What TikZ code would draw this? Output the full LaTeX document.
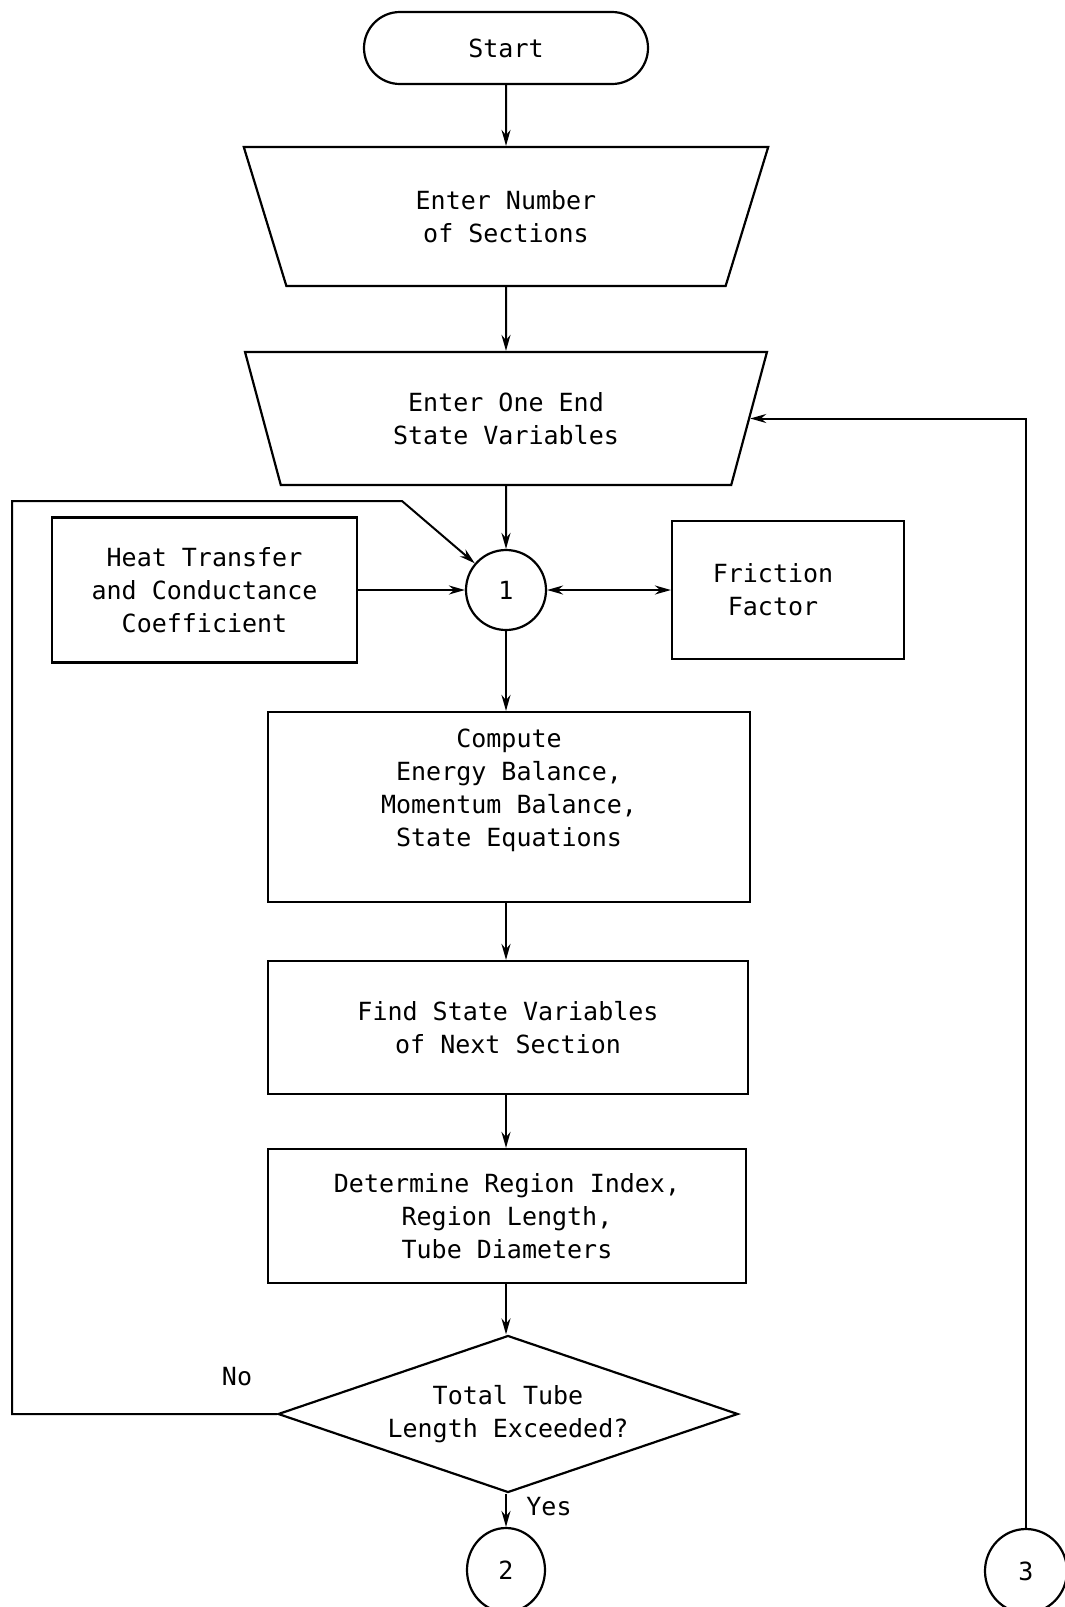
\documentclass[tikz,border=0pt]{standalone}
\usepackage{fontspec}
\setmonofont{DejaVu Sans Mono}
\usetikzlibrary{shapes.geometric,shapes.misc,arrows.meta}
\begin{document}
\begin{tikzpicture}[x=1pt,y=-1pt,
  every node/.style={font=\ttfamily\fontsize{25}{33}\selectfont, align=center, inner sep=0pt},
  box/.style={draw, line width=2.2pt, rectangle},
  trap/.style={draw, line width=2.2pt, trapezium, shape border rotate=180, trapezium stretches=true},
  conn/.style={draw, line width=2.2pt, ellipse},
  tip/.tip={Stealth[length=16pt,width=9pt]},
  arr/.style={line width=2pt, -tip},
  line/.style={line width=2pt}]
\useasboundingbox (0,0) rectangle (1065,1607);
\node[draw, line width=2.2pt, rounded rectangle, minimum width=284pt, minimum height=72pt] (start) at (506,48) {Start};
\node[trap, trapezium left angle=71.5, trapezium right angle=71.5, minimum width=526pt, minimum height=139pt] (t1) at (506,216.5) {Enter Number\\ of Sections};
\node[trap, trapezium left angle=71.1, trapezium right angle=71.1, minimum width=523pt, minimum height=133pt] (t2) at (506,418.5) {Enter One End\\State Variables};
\node[conn, minimum width=80pt, minimum height=80pt] (c1) at (506,590) {1};
\node[box, minimum width=305pt, minimum height=145pt] (heat) at (204.5,590) {Heat Transfer\\and Conductance\\Coefficient};
\node[box, minimum width=232pt, minimum height=138pt] (fric) at (788,590) {Friction\hspace*{30pt}\\Factor\hspace*{30pt}};
\node[box, minimum width=482pt, minimum height=190pt] (comp) at (509,807) {Compute\\Energy Balance,\\Momentum Balance,\\State Equations\\[6pt]\mbox{}};
\node[box, minimum width=480pt, minimum height=133pt] (find) at (508,1027.5) {Find State Variables\\of Next Section};
\node[box, minimum width=478pt, minimum height=134pt] (det) at (507,1216) {Determine Region Index,\\Region Length,\\Tube Diameters};
\node[draw, line width=2.2pt, diamond, aspect=2.93, minimum width=460pt, minimum height=157pt] (dec) at (508,1414) {Total Tube\\Length Exceeded?};
\node[conn, minimum width=78pt, minimum height=84pt] (c2) at (506,1570) {2};
\node[conn, minimum width=82pt, minimum height=84pt] (c3) at (1026,1571) {3};
\coordinate (fbl) at (12,1414);
\coordinate (fbt) at (12,501);
\coordinate (fbk) at (402,501);
\node (no) at (237,1377) {No};
\node (yes) at (549,1507) {Yes};
\draw[arr] (start) -- (t1);
\draw[arr] (t1) -- (t2);
\draw[arr] (t2) -- (c1);
\draw[arr] (heat) -- (c1);
\draw[line width=2pt, tip-tip] (c1) -- (fric);
\draw[arr] (c1) -- (c1 |- comp.north);
\draw[arr] (c1 |- comp.south) -- (c1 |- find.north);
\draw[arr] (c1 |- find.south) -- (c1 |- det.north);
\draw[arr] (c1 |- det.south) -- (c1 |- dec.north);
\draw[arr] (c1 |- dec.south) -- (c2);
\draw[arr] (dec.west) -- (fbl) -- (fbt) -- (fbk) -- (c1);
\draw[arr] (c3.north) |- (t2.east);
\end{tikzpicture}
\end{document}
